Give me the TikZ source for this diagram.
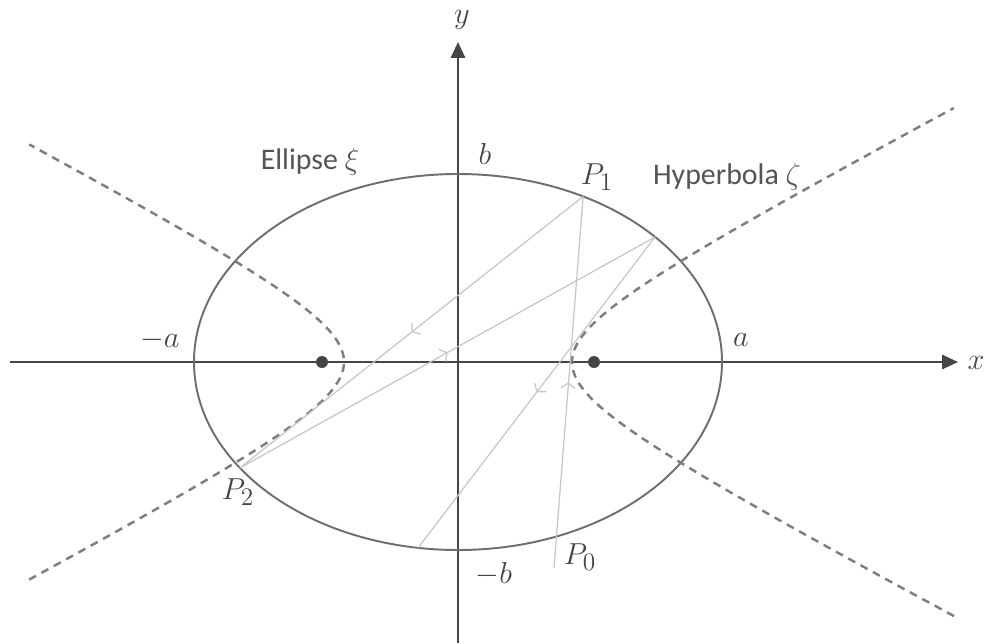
\documentclass[tikz,border=0pt]{standalone}
\usepackage{amsmath,amssymb}
\usepackage{fontspec}
\setmainfont{Carlito}
\usepackage{tikz}
\usetikzlibrary{arrows.meta, calc, decorations.markings}

\definecolor{axisgray}{HTML}{454545}
\definecolor{curvegray}{HTML}{6E6E6E}
\definecolor{hypgray}{HTML}{7E7E7E}
\definecolor{raygray}{HTML}{C6C6C6}
\definecolor{labelgray}{HTML}{454545}
\definecolor{textgray}{HTML}{555555}

\tikzset{
  axis/.style={axisgray, line width=1.4pt, -{Triangle[length=9pt,width=8pt]}},
  hyp/.style={hypgray, line width=1.4pt, dash pattern=on 4.5pt off 3.5pt},
  ray/.style={raygray, line width=0.7pt, postaction={decorate},
    decoration={markings, mark=at position 0.5 with {\arrow{Straight Barb[length=3pt,width=8pt]}}}},
  mlabel/.style={labelgray, inner sep=1pt, font=\fontsize{19}{22}\selectfont},
  tlabel/.style={textgray, font=\fontsize{17}{20}\selectfont},
}

\begin{document}
\begin{tikzpicture}[>=Stealth]
  \useasboundingbox (-9.16,-5.62) rectangle (10.58,7.24);

  % axes
  \coordinate (xl) at (-8.96,0);
  \coordinate (xr) at (10.0,0);
  \coordinate (yb) at (0,-5.62);
  \coordinate (yt) at (0,6.4);
  \draw[axis] (xl) -- (xr);
  \draw[axis] (yb) -- (yt);
  \node[mlabel] (xlab) at (10.36,-0.02) {$x$};
  \node[mlabel] (ylab) at (0.08,6.84) {$y$};

  % Ellipse xi
  \draw[curvegray, line width=1.1pt] (0,0) ellipse (5.28cm and 3.76cm);
  \node[tlabel] (elab) at (-2.96,4.0) {Ellipse $\xi$};

  % Hyperbola zeta (both branches)
  \draw[hyp] plot[domain=-2.15:2.15, samples=80, smooth] ({2.28*cosh(\x)}, {1.2*sinh(\x)});
  \draw[hyp] plot[domain=-2.0:2.0, samples=80, smooth] ({-2.28*cosh(\x)}, {1.2*sinh(\x)});
  \node[tlabel] (hlab) at (5.38,3.7) {Hyperbola $\zeta$};

  % foci
  \fill[axisgray] (-2.72,0) circle (0.12) (2.72,0) circle (0.12);

  % axis ticks
  \node[mlabel] (amin) at (-5.96,0.44) {$-a$};
  \node[mlabel] (apls) at (5.66,0.44) {$a$};
  \node[mlabel] (bpls) at (0.54,4.16) {$b$};
  \node[mlabel] (bmin) at (0.72,-4.24) {$-b$};

  % reflected ray
  \coordinate (P0) at (1.92,-4.12);
  \coordinate (P1) at ({5.28*cos(61.7)},{3.76*sin(61.7)});
  \coordinate (P2) at ({5.28*cos(214.3)},{3.76*sin(214.3)});
  \coordinate (Q)  at ({5.28*cos(41.7)},{3.76*sin(41.7)});
  \coordinate (R)  at ({5.28*cos(261.3)},{3.76*sin(261.3)});
  \draw[ray] (P0) -- (P1);
  \draw[ray] (P1) -- (P2);
  \draw[ray] (P2) -- (Q);
  \draw[ray] (Q) -- (R);
  \node[mlabel] (p0lab) at (2.44,-3.9) {$P_0$};
  \node[mlabel] (p1lab) at (2.78,3.7) {$P_1$};
  \node[mlabel] (p2lab) at (-4.4,-2.6) {$P_2$};
\end{tikzpicture}
\end{document}
